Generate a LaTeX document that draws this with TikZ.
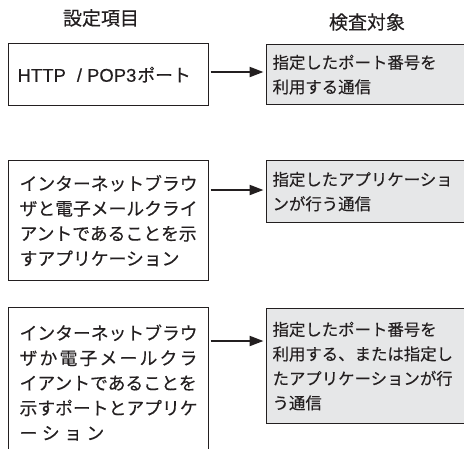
\documentclass[tikz,border=0pt]{standalone}
\usepackage{fontspec}
\newfontfamily\jp[RawFeature={embolden=0.3}]{Noto Sans CJK JP}
\newfontfamily\lat[RawFeature={embolden=0.3}]{Liberation Sans}
\usetikzlibrary{arrows.meta}
\definecolor{ink}{HTML}{231F20}
\definecolor{pane}{HTML}{E6E7E8}
\begin{document}
\begin{tikzpicture}[x=1pt,y=-1pt,
 lbox/.style={draw=ink, line width=1.2pt, anchor=north west, minimum width=200pt, text width=178pt, inner xsep=0pt, inner ysep=0pt, align=left, font=\jp\fontsize{17.8}{25}\selectfont, text=ink},
 rbox/.style={draw=ink, fill=pane, line width=1.2pt, anchor=north west, minimum width=206pt, text width=194pt, inner xsep=0pt, inner ysep=0pt, align=left, font=\jp\fontsize{16.4}{24.5}\selectfont, text=ink},
 head/.style={font=\jp\fontsize{19}{21}\selectfont, text=ink},
 link/.style={line width=2.2pt, draw=ink, -{Triangle[length=14pt,width=10pt]}, shorten <=1.5pt, shorten >=2.5pt}]
\useasboundingbox (0,0) rectangle (464,448);

\node[head] (h1) at (101,18) {設定項目};
\node[head] (h2) at (367,22) {検査対象};

\node[lbox, minimum height=62pt, text width=182pt] (l1) at (8,43) {{\lat\fontsize{18.5}{25}\selectfont HTTP\kern11pt/\kern5ptPOP3}\kern1ptポート};
\node[rbox, minimum height=60pt] (r1) at (266,44) {指定したポート番号を\\利用する通信};

\node[lbox, minimum height=120pt] (l2) at (8,160) {インターネットブラウ\\ザと電子メールクライ\\アントであることを示\\すアプリケーション};
\node[rbox, minimum height=62pt] (r2) at (266,160) {指定したアプリケーショ\\ンが行う通信};

\node[lbox, minimum height=150pt] (l3) at (8,307) {インターネットブラウ\\ザ\kern2.2ptか\kern2.2pt電\kern2.2pt子\kern2.2ptメ\kern2.2ptー\kern2.2ptル\kern2.2ptク\kern2.2ptラ\\イアントであることを\\示すポートとアプリケ\\ー\kern4.5ptシ\kern4.5ptョ\kern4.5ptン};
\node[rbox, minimum height=115pt] (r3) at (266,308) {指定したポート番号を\\利用する、または指定し\\たアプリケーションが行\\う通信};

\coordinate (a1) at (0,72);
\coordinate (a2) at (0,190);
\coordinate (a3) at (0,341);
\draw[link] (l1.east |- a1) -- (r1.west |- a1);
\draw[link] (l2.east |- a2) -- (r2.west |- a2);
\draw[link] (l3.east |- a3) -- (r3.west |- a3);
\end{tikzpicture}
\end{document}
